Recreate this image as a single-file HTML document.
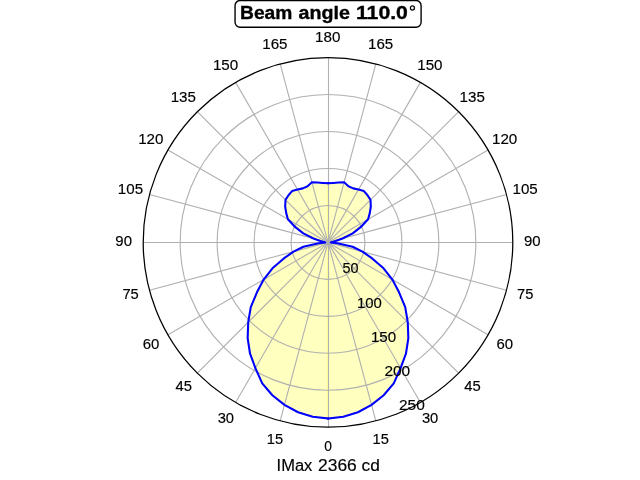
<!DOCTYPE html>
<html><head><meta charset="utf-8"><style>
html,body{margin:0;padding:0;background:#fff;overflow:hidden;}
svg{display:block;will-change:transform;}
text{font-family:"Liberation Sans",sans-serif;}
</style></head><body>
<svg width="640" height="480" viewBox="0 0 640 480">
<defs><clipPath id="lobes"><polygon points="328.00,418.50 343.25,416.73 357.95,412.28 371.53,404.87 383.65,395.29 393.76,383.42 400.60,368.15 405.95,353.72 408.35,338.16 407.76,322.16 405.22,307.19 398.94,292.07 392.35,279.55 383.56,268.31 372.17,258.47 362.48,251.64 352.62,246.74 337.26,243.21 330.80,242.40 330.80,242.40 332.48,242.01 335.68,241.05 342.49,238.52 352.71,233.40 360.63,227.19 368.10,219.25 369.78,213.15 370.82,206.47 370.50,199.90 367.53,195.29 363.91,191.12 358.50,189.57 353.19,188.38 348.42,186.30 344.10,182.32 338.56,182.52 333.20,182.93 328.00,183.25"/><polygon points="328.00,418.50 312.75,416.73 298.05,412.28 284.47,404.87 272.35,395.29 262.24,383.42 255.40,368.15 250.05,353.72 247.65,338.16 248.24,322.16 250.78,307.19 257.06,292.07 263.65,279.55 272.44,268.31 283.83,258.47 293.52,251.64 303.38,246.74 318.74,243.21 325.20,242.40 325.20,242.40 323.52,242.01 320.32,241.05 313.51,238.52 303.29,233.40 295.37,227.19 287.90,219.25 286.22,213.15 285.18,206.47 285.50,199.90 288.47,195.29 292.09,191.12 297.50,189.57 302.81,188.38 307.58,186.30 311.90,182.32 317.44,182.52 322.80,182.93 328.00,183.25"/></clipPath></defs>
<rect width="640" height="480" fill="#fff"/>
<g fill="#ffff00" fill-opacity="0.25" stroke="none">
<polygon points="328.00,418.50 343.25,416.73 357.95,412.28 371.53,404.87 383.65,395.29 393.76,383.42 400.60,368.15 405.95,353.72 408.35,338.16 407.76,322.16 405.22,307.19 398.94,292.07 392.35,279.55 383.56,268.31 372.17,258.47 362.48,251.64 352.62,246.74 337.26,243.21 330.80,242.40 330.80,242.40 332.48,242.01 335.68,241.05 342.49,238.52 352.71,233.40 360.63,227.19 368.10,219.25 369.78,213.15 370.82,206.47 370.50,199.90 367.53,195.29 363.91,191.12 358.50,189.57 353.19,188.38 348.42,186.30 344.10,182.32 338.56,182.52 333.20,182.93 328.00,183.25"/>
<polygon points="328.00,418.50 312.75,416.73 298.05,412.28 284.47,404.87 272.35,395.29 262.24,383.42 255.40,368.15 250.05,353.72 247.65,338.16 248.24,322.16 250.78,307.19 257.06,292.07 263.65,279.55 272.44,268.31 283.83,258.47 293.52,251.64 303.38,246.74 318.74,243.21 325.20,242.40 325.20,242.40 323.52,242.01 320.32,241.05 313.51,238.52 303.29,233.40 295.37,227.19 287.90,219.25 286.22,213.15 285.18,206.47 285.50,199.90 288.47,195.29 292.09,191.12 297.50,189.57 302.81,188.38 307.58,186.30 311.90,182.32 317.44,182.52 322.80,182.93 328.00,183.25"/>
<rect x="327" y="50" width="1" height="380" clip-path="url(#lobes)"/>
</g>
<g fill="none" stroke="#b0b0b0" stroke-width="1.11">
<circle cx="328.0" cy="242.4" r="36.96"/><circle cx="328.0" cy="242.4" r="73.92"/><circle cx="328.0" cy="242.4" r="110.88"/><circle cx="328.0" cy="242.4" r="147.84"/>
<line x1="328.0" y1="242.4" x2="375.83" y2="420.90"/><line x1="328.0" y1="242.4" x2="420.40" y2="402.44"/><line x1="328.0" y1="242.4" x2="458.67" y2="373.07"/><line x1="328.0" y1="242.4" x2="488.04" y2="334.80"/><line x1="328.0" y1="242.4" x2="506.50" y2="290.23"/><line x1="328.0" y1="242.4" x2="506.50" y2="194.57"/><line x1="328.0" y1="242.4" x2="488.04" y2="150.00"/><line x1="328.0" y1="242.4" x2="458.67" y2="111.73"/><line x1="328.0" y1="242.4" x2="420.40" y2="82.36"/><line x1="328.0" y1="242.4" x2="375.83" y2="63.90"/><line x1="328.0" y1="242.4" x2="280.17" y2="63.90"/><line x1="328.0" y1="242.4" x2="235.60" y2="82.36"/><line x1="328.0" y1="242.4" x2="197.33" y2="111.73"/><line x1="328.0" y1="242.4" x2="167.96" y2="150.00"/><line x1="328.0" y1="242.4" x2="149.50" y2="194.57"/><line x1="328.0" y1="242.4" x2="149.50" y2="290.23"/><line x1="328.0" y1="242.4" x2="167.96" y2="334.80"/><line x1="328.0" y1="242.4" x2="197.33" y2="373.07"/><line x1="328.0" y1="242.4" x2="235.60" y2="402.44"/><line x1="328.0" y1="242.4" x2="280.17" y2="420.90"/><line x1="328.5" y1="57.60" x2="328.5" y2="427.20"/><line x1="143.20" y1="242.5" x2="512.80" y2="242.5"/>
</g>
<circle cx="328.0" cy="242.4" r="184.8" fill="none" stroke="#000" stroke-width="1.25"/>
<g fill="none" stroke="#0000ff" stroke-width="2.08" stroke-linejoin="round" stroke-linecap="square">
<polyline points="328.00,418.50 343.25,416.73 357.95,412.28 371.53,404.87 383.65,395.29 393.76,383.42 400.60,368.15 405.95,353.72 408.35,338.16 407.76,322.16 405.22,307.19 398.94,292.07 392.35,279.55 383.56,268.31 372.17,258.47 362.48,251.64 352.62,246.74 337.26,243.21 330.80,242.40 330.80,242.40 332.48,242.01 335.68,241.05 342.49,238.52 352.71,233.40 360.63,227.19 368.10,219.25 369.78,213.15 370.82,206.47 370.50,199.90 367.53,195.29 363.91,191.12 358.50,189.57 353.19,188.38 348.42,186.30 344.10,182.32 338.56,182.52 333.20,182.93 328.00,183.25"/>
<polyline points="328.00,418.50 312.75,416.73 298.05,412.28 284.47,404.87 272.35,395.29 262.24,383.42 255.40,368.15 250.05,353.72 247.65,338.16 248.24,322.16 250.78,307.19 257.06,292.07 263.65,279.55 272.44,268.31 283.83,258.47 293.52,251.64 303.38,246.74 318.74,243.21 325.20,242.40 325.20,242.40 323.52,242.01 320.32,241.05 313.51,238.52 303.29,233.40 295.37,227.19 287.90,219.25 286.22,213.15 285.18,206.47 285.50,199.90 288.47,195.29 292.09,191.12 297.50,189.57 302.81,188.38 307.58,186.30 311.90,182.32 317.44,182.52 322.80,182.93 328.00,183.25"/>
</g>
<g fill="#000" stroke="#000">
<text transform="matrix(0.06893 0 0 0.07113 324.174 451.208)" font-size="200" stroke-width="2.11">0</text><text transform="matrix(0.07360 0 0 0.07113 372.450 444.337)" font-size="200" stroke-width="2.11">15</text><text transform="matrix(0.07364 0 0 0.07113 421.939 423.058)" font-size="200" stroke-width="2.11">30</text><text transform="matrix(0.07413 0 0 0.07113 464.344 391.037)" font-size="200" stroke-width="2.11">45</text><text transform="matrix(0.07479 0 0 0.07113 496.516 349.008)" font-size="200" stroke-width="2.11">60</text><text transform="matrix(0.07369 0 0 0.07113 517.085 299.037)" font-size="200" stroke-width="2.11">75</text><text transform="matrix(0.07488 0 0 0.07113 523.913 245.908)" font-size="200" stroke-width="2.11">90</text><text transform="matrix(0.07575 0 0 0.07113 512.461 194.258)" font-size="200" stroke-width="2.11">105</text><text transform="matrix(0.07592 0 0 0.07113 491.984 144.008)" font-size="200" stroke-width="2.11">120</text><text transform="matrix(0.07575 0 0 0.07113 459.584 102.258)" font-size="200" stroke-width="2.11">135</text><text transform="matrix(0.07592 0 0 0.07113 417.205 69.858)" font-size="200" stroke-width="2.11">150</text><text transform="matrix(0.07575 0 0 0.07113 367.999 48.508)" font-size="200" stroke-width="2.11">165</text><text transform="matrix(0.07592 0 0 0.07113 315.055 42.008)" font-size="200" stroke-width="2.11">180</text><text transform="matrix(0.07575 0 0 0.07113 262.246 48.508)" font-size="200" stroke-width="2.11">165</text><text transform="matrix(0.07592 0 0 0.07113 212.905 69.858)" font-size="200" stroke-width="2.11">150</text><text transform="matrix(0.07575 0 0 0.07113 170.660 102.258)" font-size="200" stroke-width="2.11">135</text><text transform="matrix(0.07592 0 0 0.07113 138.126 144.008)" font-size="200" stroke-width="2.11">120</text><text transform="matrix(0.07575 0 0 0.07113 117.784 194.258)" font-size="200" stroke-width="2.11">105</text><text transform="matrix(0.07488 0 0 0.07113 115.313 245.908)" font-size="200" stroke-width="2.11">90</text><text transform="matrix(0.07369 0 0 0.07113 122.408 299.037)" font-size="200" stroke-width="2.11">75</text><text transform="matrix(0.07479 0 0 0.07113 142.658 349.008)" font-size="200" stroke-width="2.11">60</text><text transform="matrix(0.07413 0 0 0.07113 175.420 391.037)" font-size="200" stroke-width="2.11">45</text><text transform="matrix(0.07364 0 0 0.07113 217.639 423.058)" font-size="200" stroke-width="2.11">30</text><text transform="matrix(0.07360 0 0 0.07113 266.696 444.337)" font-size="200" stroke-width="2.11">15</text>
<text transform="matrix(0.07205 0 0 0.07113 342.479 273.053)" font-size="200" stroke-width="2.11">50</text><text transform="matrix(0.07454 0 0 0.07113 356.910 307.628)" font-size="200" stroke-width="2.11">100</text><text transform="matrix(0.07558 0 0 0.07113 370.939 341.703)" font-size="200" stroke-width="2.11">150</text><text transform="matrix(0.07733 0 0 0.07113 384.390 375.953)" font-size="200" stroke-width="2.11">200</text><text transform="matrix(0.07733 0 0 0.07113 398.960 409.903)" font-size="200" stroke-width="2.11">250</text>
</g>
<rect x="235.06" y="0.5" width="186.04" height="26.8" rx="5" ry="5" fill="#fff" stroke="#000" stroke-width="1.39"/>
<g fill="#000" stroke="#000">
<text transform="matrix(0.09595 0 0 0.09196 240.053 18.750)" font-size="200" stroke-width="3.81" font-weight="bold">Beam</text><text transform="matrix(0.09831 0 0 0.09196 298.510 18.750)" font-size="200" stroke-width="3.81" font-weight="bold">angle</text><text transform="matrix(0.10609 0 0 0.09196 355.971 18.750)" font-size="200" stroke-width="3.81" font-weight="bold">110.0</text><ellipse cx="412.4" cy="7.95" rx="2.0" ry="2.1" fill="none" stroke="#000" stroke-width="1.25"/>
<text transform="matrix(0.08266 0 0 0.08514 276.572 470.750)" font-size="200" stroke-width="1.76">IMax</text><text transform="matrix(0.08709 0 0 0.08514 318.029 470.750)" font-size="200" stroke-width="1.76">2366</text><text transform="matrix(0.08677 0 0 0.08514 361.619 470.750)" font-size="200" stroke-width="1.76">cd</text>
</g>
</svg>
</body></html>
